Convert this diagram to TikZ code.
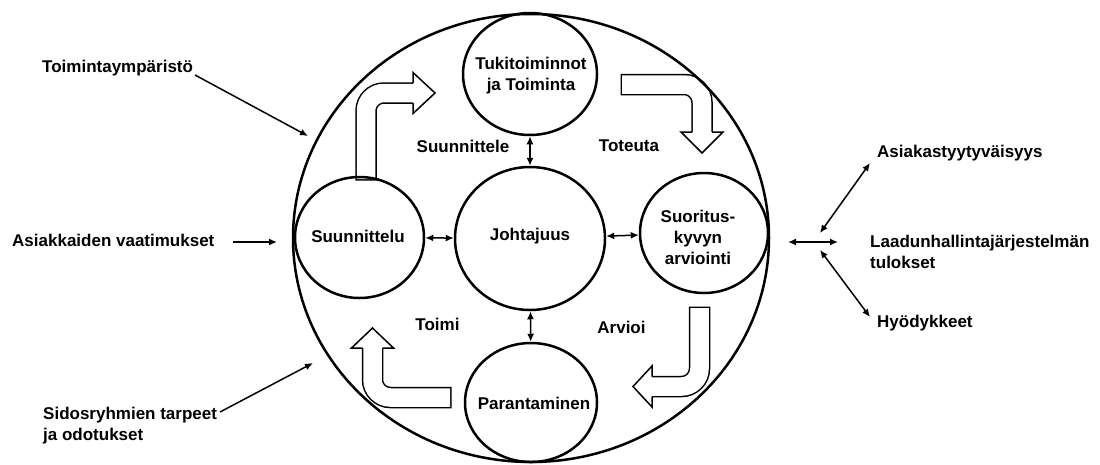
\documentclass[tikz,border=0pt]{standalone}
\usepackage{fontspec}
\setmainfont{Liberation Sans}
\usetikzlibrary{shapes.geometric,arrows.meta}
\begin{document}
\begin{tikzpicture}[x=1pt,y=-1pt,
  txt/.style={font=\fontsize{17}{21}\selectfont\bfseries, inner sep=0pt, align=left, anchor=west},
  ctxt/.style={font=\fontsize{17}{21}\selectfont\bfseries, inner sep=0pt, align=center},
  ell/.style={draw, ellipse, line width=2.5pt, inner sep=0pt},
  conn/.style={line width=1.5pt, -{Latex[length=8pt,width=7pt]}},
  dconn/.style={line width=1.5pt, {Latex[length=8pt,width=7pt]}-{Latex[length=8pt,width=7pt]}},
  shaftout/.style={line width=21.5pt, rounded corners=18pt},
  shaftin/.style={line width=18.5pt, white, rounded corners=18pt},
  head/.style={fill=white, draw=black, line width=1.5pt, line join=miter},
]
\useasboundingbox (0,0) rectangle (1100,464);

% block arrows
\draw[shaftout] (366,180.5) -- (366,93) -- (413,93);
\draw[shaftin] (366,179) -- (366,93) -- (414,93);
\filldraw[head] (413,83) -- (413,72.5) -- (435,93) -- (413,113.5) -- (413,103);

\draw[shaftout] (620.5,84.5) -- (702,84.5) -- (702,132);
\draw[shaftin] (622,84.5) -- (702,84.5) -- (702,133);
\filldraw[head] (692,132) -- (681,132) -- (702,153) -- (723,132) -- (712,132);

\draw[shaftout] (699.5,306.5) -- (699.5,386.5) -- (652,386.5);
\draw[shaftin] (699.5,308) -- (699.5,386.5) -- (651,386.5);
\filldraw[head] (652,376.5) -- (652,366) -- (633,386.5) -- (652,407) -- (652,396.5);

\draw[shaftout] (451.5,397.5) -- (372.5,397.5) -- (372.5,348);
\draw[shaftin] (450,397.5) -- (372.5,397.5) -- (372.5,347);
\filldraw[head] (362.5,348) -- (351.5,348) -- (372.5,328) -- (393.5,348) -- (382.5,348);

% circles
\node[ell, minimum width=476pt, minimum height=448pt] (big) at (531,238) {};
\node[ell, minimum width=134pt, minimum height=122pt] (tuki) at (530,74) {};
\node[ell, minimum width=150pt, minimum height=143pt] (joht) at (530,238.5) {};
\node[ell, minimum width=129pt, minimum height=121pt] (suun) at (359.5,237.5) {};
\node[ell, minimum width=128pt, minimum height=120pt] (suor) at (704,233) {};
\node[ell, minimum width=132pt, minimum height=119pt] (para) at (531,402.5) {};

% circle texts
\node[ctxt] (tukit) at (531,75.5) {Tukitoiminnot\\ja Toiminta};
\node[ctxt] (johtt) at (530,236) {Johtajuus};
\node[ctxt] (suunt) at (358,236) {Suunnittelu};
\node[ctxt] (suort) at (698,237) {Suoritus-\\kyvyn\\arviointi};
\node[ctxt] (parat) at (534,403) {Parantaminen};

% inner labels
\node[ctxt] (l1) at (463,146) {Suunnittele};
\node[ctxt] (l2) at (629,146) {Toteuta};
\node[ctxt] (l3) at (437.5,324) {Toimi};
\node[ctxt] (l4) at (621.5,327) {Arvioi};

% inner connectors
\draw[dconn] (tuki) -- (joht);
\draw[dconn] (joht) -- (para);
\draw[dconn] (suun) -- (joht);
\draw[dconn] (joht) -- (suor);

% outer labels
\node[txt] (o1) at (42,68) {Toimintaympäristö};
\node[txt] (o2) at (12,240) {Asiakkaiden vaatimukset};
\node[txt] (o3) at (43,426) {Sidosryhmien tarpeet\\ja odotukset};
\node[txt] (o4) at (877,153) {Asiakastyytyväisyys};
\node[txt] (o5) at (870,252) {Laadunhallintajärjestelmän\\tulokset};
\node[txt] (o6) at (877,323) {Hyödykkeet};

% outer connectors
\coordinate (a1s) at (195,75);  \coordinate (a1e) at (308,136);
\coordinate (a2s) at (233,242); \coordinate (a2e) at (277,242);
\coordinate (a3s) at (220,412); \coordinate (a3e) at (313,363);
\coordinate (r0a) at (788,242); \coordinate (r0b) at (838,242);
\coordinate (r1a) at (820,233); \coordinate (r1b) at (870,163);
\coordinate (r2a) at (820,250); \coordinate (r2b) at (870,317);
\draw[conn] (a1s) -- (a1e);
\draw[conn] (a2s) -- (a2e);
\draw[conn] (a3s) -- (a3e);
\draw[dconn] (r0a) -- (r0b);
\draw[dconn] (r1a) -- (r1b);
\draw[dconn] (r2a) -- (r2b);
\end{tikzpicture}
\end{document}
